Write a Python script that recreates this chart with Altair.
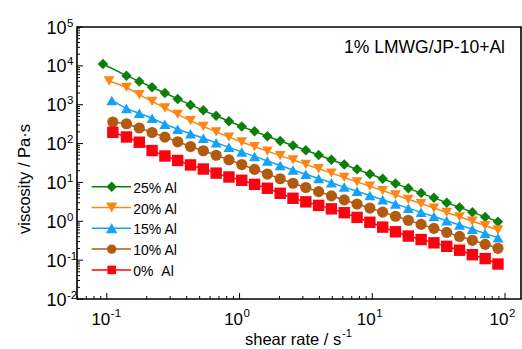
import altair as alt
import pandas as pd

FONT = "Liberation Sans"

series_names = ["25% Al", "20% Al", "15% Al", "10% Al", "0% Al"]
legend_labels = ["25% Al", "20% Al", "15% Al", "10% Al", "\u00a00%\u00a0\u00a0Al"]
series_colors = ["#0A800A", "#FF8514", "#14A2F5", "#B25A10", "#FF0010"]
series_shapes = ["diamond", "triangle-down", "triangle-up", "circle", "square"]
series_sizes = [110, 130, 130, 88, 72]

# first measured shear rate of each run (1/s)
first_rate = [0.0935, 0.104, 0.109, 0.111, 0.111]
# common shear-rate grid for the remaining points (1/s)
shear_rate = [0.1406, 0.1756, 0.2193, 0.2739, 0.3420, 0.4272, 0.5335, 0.6662, 0.8321, 1.039,
              1.298, 1.621, 2.024, 2.528, 3.157, 3.943, 4.924, 6.150, 7.680, 9.592,
              11.98, 14.96, 18.68, 23.33, 29.14, 36.39, 45.45, 56.76, 70.89, 88.5]

# log10(viscosity / Pa·s) (first value = first_rate point)
log_visc_25 = [4.048, 3.747, 3.600, 3.450, 3.300, 3.150, 2.995, 2.855, 2.715, 2.575, 2.440,
               2.315, 2.190, 2.068, 1.950, 1.827, 1.705, 1.582, 1.460, 1.337, 1.215,
               1.093, 0.970, 0.848, 0.725, 0.603, 0.480, 0.358, 0.235, 0.113, -0.010]
log_visc_20 = [3.61, 3.448, 3.26, 3.085, 2.915, 2.75, 2.59, 2.44, 2.30, 2.165, 2.04,
               1.92, 1.805, 1.69, 1.578, 1.465, 1.352, 1.24, 1.128, 1.015, 0.903,
               0.79, 0.678, 0.565, 0.453, 0.34, 0.228, 0.115, 0.003, -0.11, -0.224]
log_visc_15 = [3.11, 2.90, 2.78, 2.65, 2.50, 2.37, 2.253, 2.136, 2.02, 1.903, 1.786,
               1.67, 1.553, 1.436, 1.32, 1.21, 1.10, 0.99, 0.88, 0.772, 0.663,
               0.555, 0.447, 0.338, 0.23, 0.121, 0.013, -0.095, -0.203, -0.312, -0.422]
log_visc_10 = [2.555, 2.51, 2.40, 2.285, 2.165, 2.045, 1.925, 1.815, 1.70, 1.58, 1.46,
               1.335, 1.215, 1.095, 0.978, 0.87, 0.763, 0.655, 0.55, 0.445, 0.34,
               0.235, 0.13, 0.025, -0.08, -0.182, -0.285, -0.39, -0.49, -0.593, -0.695]
log_visc_0 = [2.29, 2.17, 2.035, 1.82, 1.68, 1.565, 1.45, 1.345, 1.24, 1.14, 1.055,
              0.95, 0.85, 0.72, 0.592, 0.50, 0.41, 0.32, 0.22, 0.10, -0.025,
              -0.15, -0.27, -0.38, -0.47, -0.555, -0.645, -0.745, -0.86, -0.96, -1.10]

x_major = [0.1, 1, 10, 100]
x_major_exp = ["-1", "0", "1", "2"]
y_major = [0.01, 0.1, 1, 10, 100, 1000, 10000, 100000]
y_major_exp = ["-2", "-1", "0", "1", "2", "3", "4", "5"]
x_minor = [m * 10.0 ** e for e in range(-2, 2) for m in range(2, 10) if 0.059 < m * 10.0 ** e < 130]
y_minor = [m * 10.0 ** e for e in range(-2, 5) for m in range(2, 10)]

W, H = 444, 272
xscale = alt.Scale(type="log", domain=[0.0596, 132], nice=False)
yscale = alt.Scale(type="log", domain=[0.01, 100000], nice=False)

rows = []
all_logs = [log_visc_25, log_visc_20, log_visc_15, log_visc_10, log_visc_0]
for name, fr, logs in zip(series_names, first_rate, all_logs):
    rates = [fr] + shear_rate
    for r, lv in zip(rates, logs):
        rows.append({"series": name, "rate": r, "visc": 10 ** lv})
df = pd.DataFrame(rows)

color = alt.Color("series:N", scale=alt.Scale(domain=series_names, range=series_colors), legend=None)
X = alt.X("rate:Q", scale=xscale, axis=None)
Y = alt.Y("visc:Q", scale=yscale, axis=None)

lines = alt.Chart(df).mark_line(strokeWidth=1.5).encode(x=X, y=Y, color=color, detail="series:N")
points = alt.Chart(df).mark_point(filled=True, opacity=1, strokeWidth=0).encode(
    x=X, y=Y, color=color,
    shape=alt.Shape("series:N", scale=alt.Scale(domain=series_names, range=series_shapes), legend=None),
    size=alt.Size("series:N", scale=alt.Scale(domain=series_names, range=series_sizes), legend=None),
)

layers = [lines, points]

# ticks (inward)
def xticks(vals, length):
    return alt.Chart(pd.DataFrame({"v": vals})).mark_rule(color="black", strokeWidth=1).encode(
        x=alt.X("v:Q", scale=xscale, axis=None), y=alt.value(H), y2=alt.value(H - length))

def yticks(vals, length):
    return alt.Chart(pd.DataFrame({"v": vals})).mark_rule(color="black", strokeWidth=1).encode(
        y=alt.Y("v:Q", scale=yscale, axis=None), x=alt.value(0), x2=alt.value(length))

layers += [xticks(x_major, 6), xticks(x_minor, 3), yticks(y_major, 6), yticks(y_minor, 3)]

# tick labels 10^n
xl = pd.DataFrame({"v": x_major, "e": x_major_exp, "b": ["10"] * len(x_major)})
layers.append(alt.Chart(xl).mark_text(align="right", baseline="alphabetic", dx=3.5, fontSize=17, font=FONT, color="black").encode(
    x=alt.X("v:Q", scale=xscale, axis=None), y=alt.value(298), text="b:N"))
layers.append(alt.Chart(xl).mark_text(align="left", baseline="alphabetic", dx=4, fontSize=11.5, font=FONT, color="black").encode(
    x=alt.X("v:Q", scale=xscale, axis=None), y=alt.value(289.7), text="e:N"))
yl = pd.DataFrame({"v": y_major, "e": y_major_exp, "b": ["10"] * len(y_major)})
layers.append(alt.Chart(yl).mark_text(align="right", baseline="alphabetic", dy=6.5, fontSize=18, font=FONT, color="black").encode(
    y=alt.Y("v:Q", scale=yscale, axis=None), x=alt.value(-10.5), text="b:N"))
layers.append(alt.Chart(yl).mark_text(align="left", baseline="alphabetic", dy=-0.5, fontSize=11.5, font=FONT, color="black").encode(
    y=alt.Y("v:Q", scale=yscale, axis=None), x=alt.value(-10), text="e:N"))

one = pd.DataFrame({"t": ["shear rate / s"]})
layers.append(alt.Chart(one).mark_text(align="left", baseline="alphabetic", fontSize=16.5, font=FONT, color="black").encode(
    x=alt.value(168), y=alt.value(318), text="t:N"))
layers.append(alt.Chart(pd.DataFrame({"t": ["-1"]})).mark_text(align="left", baseline="alphabetic", fontSize=11, font=FONT, color="black").encode(
    x=alt.value(265), y=alt.value(309.5), text="t:N"))
layers.append(alt.Chart(pd.DataFrame({"t": ["viscosity / Pa·s"]})).mark_text(align="center", baseline="alphabetic", angle=270, fontSize=16.5, font=FONT, color="black").encode(
    x=alt.value(-47.5), y=alt.value(152), text="t:N"))
layers.append(alt.Chart(pd.DataFrame({"t": ["1% LMWG/JP-10+Al"]})).mark_text(align="right", baseline="alphabetic", fontSize=17.5, font=FONT, color="black").encode(
    x=alt.value(428), y=alt.value(25.5), text="t:N"))

# legend
for i, (lab, c, s, sz) in enumerate(zip(legend_labels, series_colors, series_shapes, series_sizes)):
    yr = 159.7 + 20.8 * i
    d = pd.DataFrame({"t": [lab]})
    layers.append(alt.Chart(d).mark_rule(color=c, strokeWidth=1.5).encode(
        x=alt.value(14.7), x2=alt.value(54), y=alt.value(yr)))
    layers.append(alt.Chart(d).mark_point(shape=s, filled=True, size=sz, color=c, opacity=1, strokeWidth=0).encode(
        x=alt.value(34.7), y=alt.value(yr)))
    layers.append(alt.Chart(d).mark_text(align="left", baseline="alphabetic", fontSize=14, font=FONT, color="black").encode(
        x=alt.value(56.3), y=alt.value(yr + 6), text="t:N"))

chart = alt.layer(*layers).properties(
    width=W, height=H,
    padding={"left": 77, "top": 27, "right": 1, "bottom": 50},
    autosize=alt.AutoSizeParams(type="none"),
).configure_view(stroke="black", strokeWidth=1.6)

chart.save("out.html", embed_options={"renderer": "svg", "actions": False})
